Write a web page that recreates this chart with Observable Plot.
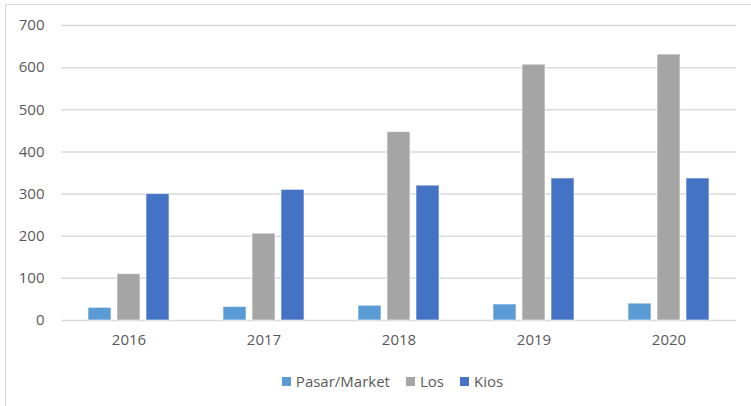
<!DOCTYPE html>
<html><head><meta charset="utf-8">
<script src="https://cdn.jsdelivr.net/npm/d3@7"></script>
<script src="https://cdn.jsdelivr.net/npm/@observablehq/plot@0.6"></script>
<style>
body{margin:0;background:#fff;font-family:"Open Sans",sans-serif;}
#wrap{position:relative;width:751px;height:406px;overflow:hidden;}
#frame{position:absolute;left:5px;top:4px;width:800px;height:500px;border-left:1.5px solid #d9d9d9;border-top:1.5px solid #d9d9d9;}
#chart{position:absolute;left:0;top:0;}
#legend{position:absolute;left:17px;top:370px;width:751px;height:22px;display:flex;justify-content:center;align-items:center;gap:0;font-size:15px;color:#595959;}
#legend span.item{display:flex;align-items:center;margin:0 8px;}
#legend span.sw{display:inline-block;width:9px;height:9px;margin-right:5px;}
</style></head>
<body>
<div id="wrap"><div id="frame"></div><div id="chart"></div><div id="legend"></div></div>
<script>
const years = ["2016","2017","2018","2019","2020"];
const series = ["Pasar/Market","Los","Kios"];
const colors = ["#5B9BD5","#A5A5A5","#4472C4"];
const pasar = [30, 32, 35, 38, 40];
const los = [110, 206, 447, 607, 631];
const kios = [300, 310, 320, 337, 337];
const yTicks = [0,100,200,300,400,500,600,700];

const vals = [pasar, los, kios];
const data = [];
years.forEach((y,i)=>series.forEach((s,j)=>data.push({year:y, series:s, value:vals[j][i]})));

const plot = Plot.plot({
  width: 751, height: 370,
  marginLeft: 60, marginRight: 15, marginTop: 25, marginBottom: 50,
  style: {fontFamily: '"Open Sans", sans-serif', fontSize: "15px", color: "#595959", background: "transparent"},
  fx: {domain: years, padding: 0, label: null},
  x: {domain: series, paddingInner: 0.2, paddingOuter: 0.853, axis: null},
  y: {domain: [0,700], label: null},
  color: {domain: series, range: colors},
  marks: [
    Plot.gridY(yTicks, {stroke: "#d9d9d9", strokeOpacity: 1, strokeWidth: 1.5}),
    Plot.axisY(yTicks, {tickSize: 0, tickPadding: 17, label: null, fontSize: 15}),
    Plot.axisFx({anchor: "bottom", tickSize: 0, tickPadding: 14, label: null, fontSize: 15}),
    Plot.barY(data, {fx: "year", x: "series", y: "value", fill: "series", stroke: "#ffffff", strokeWidth: 1, strokeOpacity: 0.6})
  ]
});
document.getElementById("chart").appendChild(plot);

const lg = document.getElementById("legend");
series.forEach((s,j)=>{
  const it = document.createElement("span"); it.className="item";
  const sw = document.createElement("span"); sw.className="sw"; sw.style.background=colors[j];
  it.appendChild(sw); it.appendChild(document.createTextNode(s));
  lg.appendChild(it);
});
</script>
</body></html>
